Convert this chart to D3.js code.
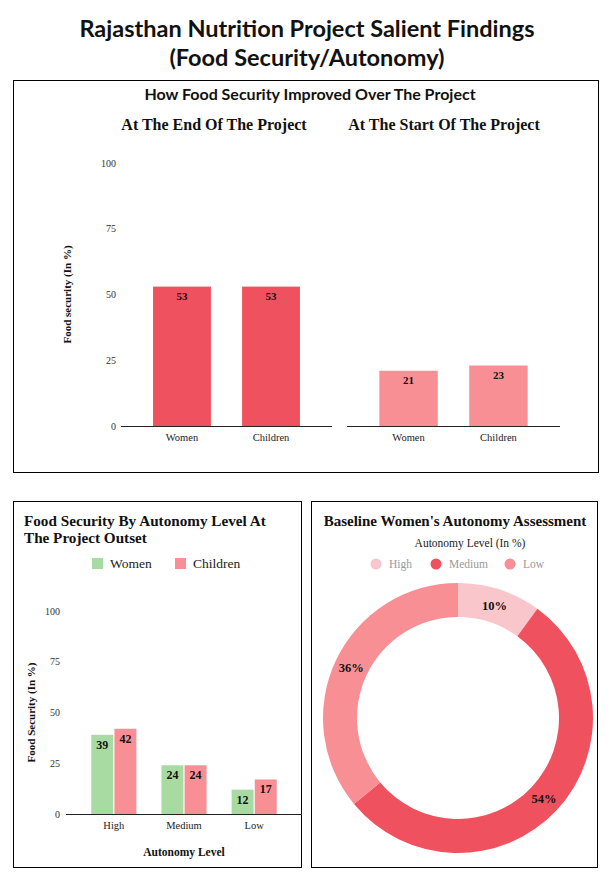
<!DOCTYPE html>
<html>
<head>
<meta charset="utf-8">
<script src="https://cdn.jsdelivr.net/npm/d3@7"></script>
<style>
  body { margin: 0; background: #fff; }
</style>
</head>
<body>
<svg id="chart" width="613" height="882"></svg>
<script>
// top chart data
var who = ["Women", "Children"];
var endValues = [53, 53];
var startValues = [21, 23];
var yTicks = [0, 25, 50, 75, 100];

// bottom-left data
var levels = ["High", "Medium", "Low"];
var womenByLevel = [39, 24, 12];
var childrenByLevel = [42, 24, 17];

// donut data
var autonomyShare = [10, 54, 36];

var red = "#f0515f", pink = "#f78f95", lightPink = "#f9c6cb", green = "#a8dba1";
var SERIF = "'Liberation Serif', 'Times New Roman', serif";
var SANS = "Lato, 'Open Sans', sans-serif";

var svg = d3.select("#chart");

function txt(x, y, s, size, opts) {
    opts = opts || {};
    var t = svg.append("text")
        .attr("x", x).attr("y", y)
        .attr("text-anchor", opts.anchor || "start")
        .style("font-family", opts.font || SERIF)
        .style("font-size", size + "px")
        .style("font-weight", opts.bold ? "bold" : "normal")
        .style("fill", opts.fill || "#111")
        .text(s);
    if (opts.transform) t.attr("transform", opts.transform);
    return t;
}

// page title
txt(307, 37, "Rajasthan Nutrition Project Salient Findings", 23.5, { anchor: "middle", font: SANS, bold: true });
txt(307, 65.5, "(Food Security/Autonomy)", 23.5, { anchor: "middle", font: SANS, bold: true });

function panel(x, y, w, h) {
    svg.append("rect").attr("x", x).attr("y", y).attr("width", w).attr("height", h)
        .attr("fill", "none").attr("stroke", "#000").attr("stroke-width", 1);
}

/*
/  top panel
*/
panel(13.5, 80.5, 585, 392);

txt(310, 100, "How Food Security Improved Over The Project", 16, { anchor: "middle", font: SANS, bold: true });

var yTop = d3.scaleLinear().domain([0, 100]).range([426, 163]);

// y axis labels (only left)
svg.selectAll("text.ytop")
    .data(yTicks)
    .enter().append("text")
    .attr("class", "ytop")
    .attr("x", 116)
    .attr("y", d => yTop(d) + 3.5)
    .attr("text-anchor", "end")
    .style("font-family", SERIF).style("font-size", "10px")
    .style("fill", "#333")
    .text(d => d);

txt(0, 0, "Food security (In %)", 11, { anchor: "middle", bold: true,
    transform: "translate(71," + yTop(50) + ") rotate(-90)" });

function topBars(x0, x1, values, color, title, titleX) {
    var x = d3.scaleBand().domain(who).range([x0, x1])
        .paddingInner(0.35).paddingOuter(0.36);

    txt(titleX, 130, title, 16, { anchor: "middle", bold: true });

    var g = svg.append("g");
    g.selectAll("rect")
        .data(values)
        .enter().append("rect")
        .attr("fill", color)
        .attr("x", (d, i) => x(who[i]))
        .attr("width", x.bandwidth())
        .attr("y", d => yTop(d))
        .attr("height", d => yTop(0) - yTop(d));

    g.selectAll("text.val")
        .data(values)
        .enter().append("text")
        .attr("class", "val")
        .attr("x", (d, i) => x(who[i]) + x.bandwidth() / 2)
        .attr("y", d => yTop(d) + 13)
        .attr("text-anchor", "middle")
        .style("font-family", SERIF).style("font-size", "11px").style("font-weight", "bold")
        .style("fill", "#111")
        .text(d => d);

    g.append("line")
        .attr("x1", x0).attr("x2", x1)
        .attr("y1", yTop(0) + 0.5).attr("y2", yTop(0) + 0.5)
        .attr("stroke", "#222");

    g.selectAll("text.cat")
        .data(who)
        .enter().append("text")
        .attr("class", "cat")
        .attr("x", d => x(d) + x.bandwidth() / 2)
        .attr("y", 441)
        .attr("text-anchor", "middle")
        .style("font-family", SERIF).style("font-size", "10.5px")
        .style("fill", "#222")
        .text(d => d);
}

topBars(121, 332, endValues, red, "At The End Of The Project", 214);
topBars(347, 560, startValues, pink, "At The Start Of The Project", 444);

/*
/  bottom-left panel
*/
panel(13.5, 501.5, 288, 366);

txt(24, 526, "Food Security By Autonomy Level At", 15.2, { bold: true });
txt(24, 543, "The Project Outset", 15.2, { bold: true });

var legend1 = [["Women", green, 92], ["Children", pink, 175]];
var lg = svg.selectAll("g.leg1")
    .data(legend1)
    .enter().append("g")
    .attr("class", "leg1");
lg.append("rect")
    .attr("x", d => d[2]).attr("y", 558)
    .attr("width", 11).attr("height", 11)
    .attr("fill", d => d[1]);
lg.append("text")
    .attr("x", d => d[2] + 18).attr("y", 568)
    .style("font-family", SERIF).style("font-size", "13.5px")
    .style("fill", "#222")
    .text(d => d[0]);

var yBL = d3.scaleLinear().domain([0, 100]).range([814, 611]);
var xBL = d3.scaleBand().domain(levels).range([66, 302])
    .paddingInner(0.357).paddingOuter(0.36);
var xSub = d3.scaleBand().domain(who).range([0, xBL.bandwidth()]).paddingInner(0.05);

svg.selectAll("text.ybl")
    .data(yTicks)
    .enter().append("text")
    .attr("class", "ybl")
    .attr("x", 60)
    .attr("y", d => yBL(d) + 3.5)
    .attr("text-anchor", "end")
    .style("font-family", SERIF).style("font-size", "10px")
    .style("fill", "#333")
    .text(d => d);

txt(0, 0, "Food Security (In %)", 11, { anchor: "middle", bold: true,
    transform: "translate(35," + yBL(50) + ") rotate(-90)" });

var rows = levels.map((l, i) => ({ level: l, vals: [womenByLevel[i], childrenByLevel[i]] }));
var grp = svg.selectAll("g.lvl")
    .data(rows)
    .enter().append("g")
    .attr("class", "lvl")
    .attr("transform", d => "translate(" + xBL(d.level) + ",0)");

grp.selectAll("rect")
    .data(d => d.vals)
    .enter().append("rect")
    .attr("x", (d, i) => xSub(who[i]))
    .attr("width", xSub.bandwidth())
    .attr("y", d => yBL(d))
    .attr("height", d => yBL(0) - yBL(d))
    .attr("fill", (d, i) => i === 0 ? green : pink);

grp.selectAll("text")
    .data(d => d.vals)
    .enter().append("text")
    .attr("x", (d, i) => xSub(who[i]) + xSub.bandwidth() / 2)
    .attr("y", d => yBL(d) + 14)
    .attr("text-anchor", "middle")
    .style("font-family", SERIF).style("font-size", "12px").style("font-weight", "bold")
    .style("fill", "#111")
    .text(d => d);

svg.append("line")
    .attr("x1", 66).attr("x2", 302)
    .attr("y1", yBL(0) + 0.5).attr("y2", yBL(0) + 0.5)
    .attr("stroke", "#222");

svg.selectAll("text.lvlname")
    .data(levels)
    .enter().append("text")
    .attr("class", "lvlname")
    .attr("x", d => xBL(d) + xBL.bandwidth() / 2)
    .attr("y", 829)
    .attr("text-anchor", "middle")
    .style("font-family", SERIF).style("font-size", "10.5px")
    .style("fill", "#222")
    .text(d => d);

txt(184, 856, "Autonomy Level", 11.5, { anchor: "middle", bold: true });

/*
/  bottom-right panel (donut)
*/
panel(311.5, 501.5, 286, 366);

txt(455, 526, "Baseline Women's Autonomy Assessment", 15, { anchor: "middle", bold: true });
txt(470, 547, "Autonomy Level (In %)", 11.5, { anchor: "middle", fill: "#222" });

var donutColors = [lightPink, red, pink];
var legend2 = [376, 436, 510];
var lg2 = svg.selectAll("g.leg2")
    .data(levels)
    .enter().append("g")
    .attr("class", "leg2");
lg2.append("circle")
    .attr("cx", (d, i) => legend2[i]).attr("cy", 564)
    .attr("r", 5.5)
    .attr("fill", (d, i) => donutColors[i]);
lg2.append("text")
    .attr("x", (d, i) => legend2[i] + 13).attr("y", 568)
    .style("font-family", SERIF).style("font-size", "11.5px")
    .style("fill", "#999")
    .text(d => d);

var pie = d3.pie().sort(null).value(d => d);
var arc = d3.arc().innerRadius(101).outerRadius(135);
var labelArc = d3.arc().innerRadius(100).outerRadius(136);

var donut = svg.append("g").attr("transform", "translate(458,718)");
donut.selectAll("path")
    .data(pie(autonomyShare))
    .enter().append("path")
    .attr("d", arc)
    .attr("fill", (d, i) => donutColors[i]);

donut.selectAll("text")
    .data(pie(autonomyShare))
    .enter().append("text")
    .attr("transform", d => "translate(" + labelArc.centroid(d) + ")")
    .attr("dy", "0.35em")
    .attr("text-anchor", "middle")
    .style("font-family", SERIF).style("font-size", "12.5px").style("font-weight", "bold")
    .style("fill", "#111")
    .text(d => d.data + "%");
</script>
</body>
</html>
